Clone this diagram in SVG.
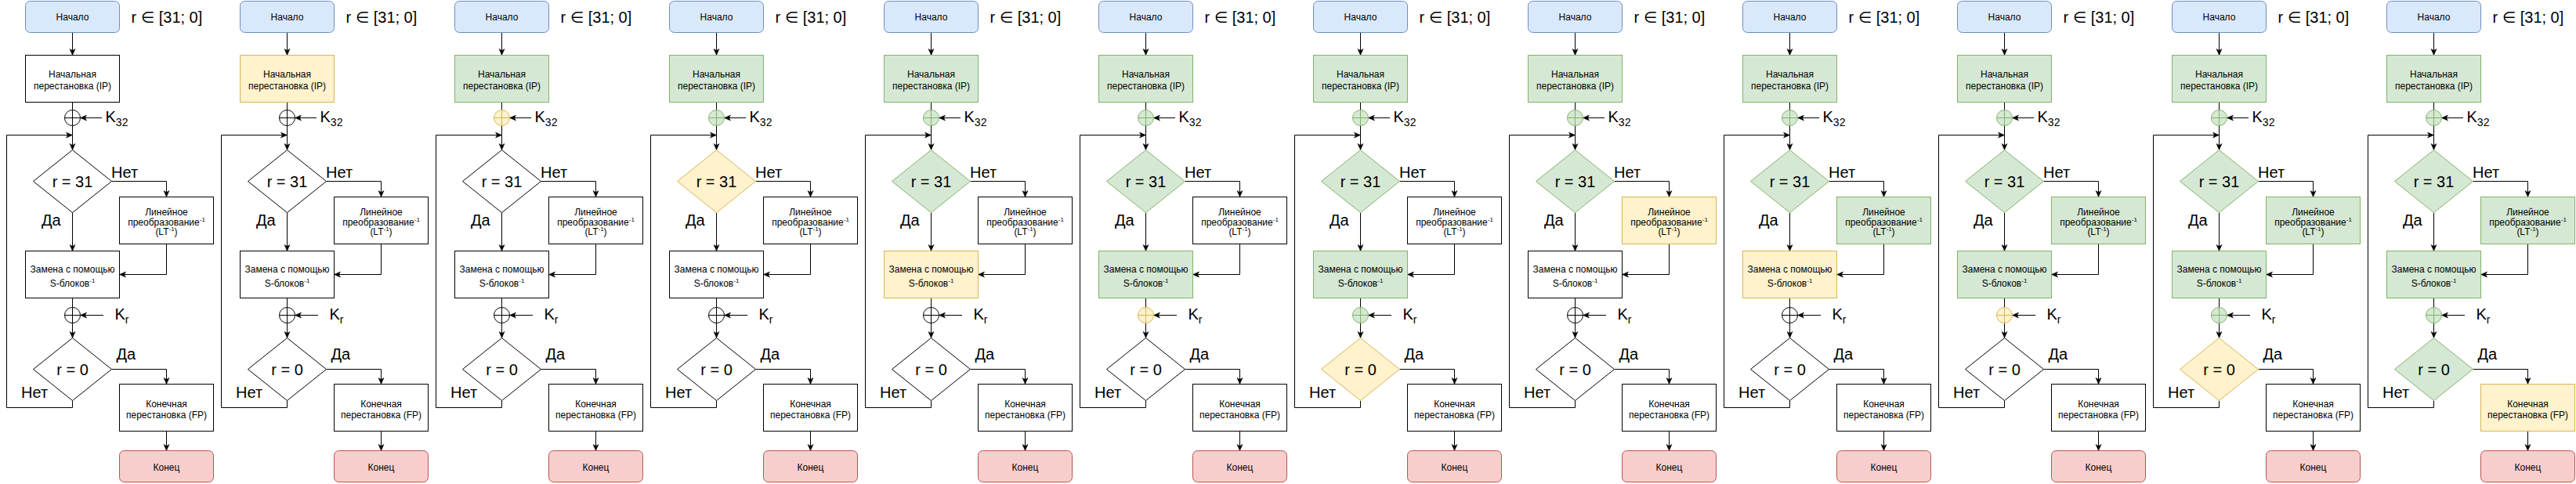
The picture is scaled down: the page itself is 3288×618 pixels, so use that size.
<svg xmlns="http://www.w3.org/2000/svg" width="3288" height="618" viewBox="0 0 3288 618">
<style>
.t{font-family:"Liberation Sans",Arial,sans-serif;font-size:12px;text-anchor:middle;fill:#000}
.L{font-size:20px}
.lb{font-family:"Liberation Sans",Arial,"DejaVu Sans",sans-serif;font-size:20px;fill:#000}
.sm{font-size:14px}
.sp{font-size:8px}
.c path{fill:none;stroke:#000;stroke-width:1}
.n{fill:#fff;stroke:#000;stroke-width:1}
.y{fill:#fff2cc;stroke:#d6b656;stroke-width:1}
.g{fill:#d5e8d4;stroke:#82b366;stroke-width:1}
.s{fill:#dae8fc;stroke:#6c8ebf;stroke-width:1}
.e{fill:#f8cecc;stroke:#b85450;stroke-width:1}
</style>
<defs>
<marker id="a" markerUnits="userSpaceOnUse" markerWidth="10" markerHeight="10" viewBox="-9 -5 10 10" refX="0" refY="0" orient="auto"><path d="M0,0L-8,-3.5L-6,0L-8,3.5Z" fill="#000" stroke="#000" stroke-width="0.5"/></marker>
</defs>
<rect width="3288" height="618" fill="#fff"/>

<g id="panel-1" transform="translate(0,0)">
<g id="p1-connectors" class="c">
<path d="M92.5,41.5V70.5" marker-end="url(#a)"/><path d="M92.5,130.5V140.5"/><path d="M130,150.5H102.5" marker-end="url(#a)"/><path d="M92.5,160.5V191.5" marker-end="url(#a)"/><path d="M92.5,511.5V520.5H8.5V172.5H92.5" marker-end="url(#a)"/><path d="M142.5,231.5H212.5V251.5" marker-end="url(#a)"/><path d="M92.5,271.5V320.5" marker-end="url(#a)"/><path d="M212.5,311.5V350.5H152.5" marker-end="url(#a)"/><path d="M92.5,380.5V392.5"/><path d="M132,402.5H102.5" marker-end="url(#a)"/><path d="M92.5,412.5V431.5" marker-end="url(#a)"/><path d="M142.5,471.5H212.5V490.5" marker-end="url(#a)"/><path d="M212.5,550.5V575.5" marker-end="url(#a)"/>
</g>
<g id="p1-start"><rect class="s" x="32.5" y="1.5" width="120" height="40" rx="6"/><text class="t" x="92.5" y="26">Начало</text></g>
<g id="p1-ip"><rect class="n" x="32.5" y="70.5" width="120" height="60"/><text class="t" x="92.5" y="99">Начальная</text><text class="t" x="92.5" y="114">перестановка (IP)</text></g>
<g id="p1-xor1"><circle class="n" cx="92.5" cy="150.5" r="10"/><path class="n" d="M92.5,140.5V160.5M82.5,150.5H102.5"/></g>
<g id="p1-d1"><path class="n" d="M92.5,191.5L142.5,231.5L92.5,271.5L42.5,231.5Z"/><text class="t L" x="92.5" y="238.5">r = 31</text></g>
<g id="p1-lt"><rect class="n" x="152.5" y="251.5" width="120" height="60"/><text class="t" x="212.5" y="274.5">Линейное</text><text class="t" x="212.5" y="288">преобразование<tspan class="sp" dy="-5">-1</tspan></text><text class="t" x="212.5" y="300">(LT<tspan class="sp" dy="-5">-1</tspan><tspan dy="5">)</tspan></text></g>
<g id="p1-sbox"><rect class="n" x="32.5" y="320.5" width="120" height="60"/><text class="t" x="92.5" y="347.5">Замена с помощью</text><text class="t" x="92.5" y="366">S-блоков<tspan class="sp" dy="-5">-1</tspan></text></g>
<g id="p1-xor2"><circle class="n" cx="92.5" cy="402.5" r="10"/><path class="n" d="M92.5,392.5V412.5M82.5,402.5H102.5"/></g>
<g id="p1-d2"><path class="n" d="M92.5,431.5L142.5,471.5L92.5,511.5L42.5,471.5Z"/><text class="t L" x="92.5" y="478.5">r = 0</text></g>
<g id="p1-fp"><rect class="n" x="152.5" y="490.5" width="120" height="60"/><text class="t" x="212.5" y="519.5">Конечная</text><text class="t" x="212.5" y="534">перестановка (FP)</text></g>
<g id="p1-end"><rect class="e" x="152.5" y="575.5" width="120" height="40" rx="6"/><text class="t" x="212.5" y="601">Конец</text></g>
<g id="p1-labels"><text class="lb" x="167.5" y="29">r ∈ [31; 0]</text><text class="lb" x="134.5" y="156">K<tspan class="sm" dy="5">32</tspan></text><text class="lb" x="146.5" y="407.5">K<tspan class="sm" dy="5">r</tspan></text><text class="lb" x="142" y="226.5">Нет</text><text class="lb" x="53" y="287.5">Да</text><text class="lb" x="148.5" y="458.5">Да</text><text class="lb" x="27" y="508">Нет</text></g>
</g>

<g id="panel-2" transform="translate(274,0)">
<g id="p2-connectors" class="c">
<path d="M92.5,41.5V70.5" marker-end="url(#a)"/><path d="M92.5,130.5V140.5"/><path d="M130,150.5H102.5" marker-end="url(#a)"/><path d="M92.5,160.5V191.5" marker-end="url(#a)"/><path d="M92.5,511.5V520.5H8.5V172.5H92.5" marker-end="url(#a)"/><path d="M142.5,231.5H212.5V251.5" marker-end="url(#a)"/><path d="M92.5,271.5V320.5" marker-end="url(#a)"/><path d="M212.5,311.5V350.5H152.5" marker-end="url(#a)"/><path d="M92.5,380.5V392.5"/><path d="M132,402.5H102.5" marker-end="url(#a)"/><path d="M92.5,412.5V431.5" marker-end="url(#a)"/><path d="M142.5,471.5H212.5V490.5" marker-end="url(#a)"/><path d="M212.5,550.5V575.5" marker-end="url(#a)"/>
</g>
<g id="p2-start"><rect class="s" x="32.5" y="1.5" width="120" height="40" rx="6"/><text class="t" x="92.5" y="26">Начало</text></g>
<g id="p2-ip"><rect class="y" x="32.5" y="70.5" width="120" height="60"/><text class="t" x="92.5" y="99">Начальная</text><text class="t" x="92.5" y="114">перестановка (IP)</text></g>
<g id="p2-xor1"><circle class="n" cx="92.5" cy="150.5" r="10"/><path class="n" d="M92.5,140.5V160.5M82.5,150.5H102.5"/></g>
<g id="p2-d1"><path class="n" d="M92.5,191.5L142.5,231.5L92.5,271.5L42.5,231.5Z"/><text class="t L" x="92.5" y="238.5">r = 31</text></g>
<g id="p2-lt"><rect class="n" x="152.5" y="251.5" width="120" height="60"/><text class="t" x="212.5" y="274.5">Линейное</text><text class="t" x="212.5" y="288">преобразование<tspan class="sp" dy="-5">-1</tspan></text><text class="t" x="212.5" y="300">(LT<tspan class="sp" dy="-5">-1</tspan><tspan dy="5">)</tspan></text></g>
<g id="p2-sbox"><rect class="n" x="32.5" y="320.5" width="120" height="60"/><text class="t" x="92.5" y="347.5">Замена с помощью</text><text class="t" x="92.5" y="366">S-блоков<tspan class="sp" dy="-5">-1</tspan></text></g>
<g id="p2-xor2"><circle class="n" cx="92.5" cy="402.5" r="10"/><path class="n" d="M92.5,392.5V412.5M82.5,402.5H102.5"/></g>
<g id="p2-d2"><path class="n" d="M92.5,431.5L142.5,471.5L92.5,511.5L42.5,471.5Z"/><text class="t L" x="92.5" y="478.5">r = 0</text></g>
<g id="p2-fp"><rect class="n" x="152.5" y="490.5" width="120" height="60"/><text class="t" x="212.5" y="519.5">Конечная</text><text class="t" x="212.5" y="534">перестановка (FP)</text></g>
<g id="p2-end"><rect class="e" x="152.5" y="575.5" width="120" height="40" rx="6"/><text class="t" x="212.5" y="601">Конец</text></g>
<g id="p2-labels"><text class="lb" x="167.5" y="29">r ∈ [31; 0]</text><text class="lb" x="134.5" y="156">K<tspan class="sm" dy="5">32</tspan></text><text class="lb" x="146.5" y="407.5">K<tspan class="sm" dy="5">r</tspan></text><text class="lb" x="142" y="226.5">Нет</text><text class="lb" x="53" y="287.5">Да</text><text class="lb" x="148.5" y="458.5">Да</text><text class="lb" x="27" y="508">Нет</text></g>
</g>

<g id="panel-3" transform="translate(548,0)">
<g id="p3-connectors" class="c">
<path d="M92.5,41.5V70.5" marker-end="url(#a)"/><path d="M92.5,130.5V140.5"/><path d="M130,150.5H102.5" marker-end="url(#a)"/><path d="M92.5,160.5V191.5" marker-end="url(#a)"/><path d="M92.5,511.5V520.5H8.5V172.5H92.5" marker-end="url(#a)"/><path d="M142.5,231.5H212.5V251.5" marker-end="url(#a)"/><path d="M92.5,271.5V320.5" marker-end="url(#a)"/><path d="M212.5,311.5V350.5H152.5" marker-end="url(#a)"/><path d="M92.5,380.5V392.5"/><path d="M132,402.5H102.5" marker-end="url(#a)"/><path d="M92.5,412.5V431.5" marker-end="url(#a)"/><path d="M142.5,471.5H212.5V490.5" marker-end="url(#a)"/><path d="M212.5,550.5V575.5" marker-end="url(#a)"/>
</g>
<g id="p3-start"><rect class="s" x="32.5" y="1.5" width="120" height="40" rx="6"/><text class="t" x="92.5" y="26">Начало</text></g>
<g id="p3-ip"><rect class="g" x="32.5" y="70.5" width="120" height="60"/><text class="t" x="92.5" y="99">Начальная</text><text class="t" x="92.5" y="114">перестановка (IP)</text></g>
<g id="p3-xor1"><circle class="y" cx="92.5" cy="150.5" r="10"/><path class="y" d="M92.5,140.5V160.5M82.5,150.5H102.5"/></g>
<g id="p3-d1"><path class="n" d="M92.5,191.5L142.5,231.5L92.5,271.5L42.5,231.5Z"/><text class="t L" x="92.5" y="238.5">r = 31</text></g>
<g id="p3-lt"><rect class="n" x="152.5" y="251.5" width="120" height="60"/><text class="t" x="212.5" y="274.5">Линейное</text><text class="t" x="212.5" y="288">преобразование<tspan class="sp" dy="-5">-1</tspan></text><text class="t" x="212.5" y="300">(LT<tspan class="sp" dy="-5">-1</tspan><tspan dy="5">)</tspan></text></g>
<g id="p3-sbox"><rect class="n" x="32.5" y="320.5" width="120" height="60"/><text class="t" x="92.5" y="347.5">Замена с помощью</text><text class="t" x="92.5" y="366">S-блоков<tspan class="sp" dy="-5">-1</tspan></text></g>
<g id="p3-xor2"><circle class="n" cx="92.5" cy="402.5" r="10"/><path class="n" d="M92.5,392.5V412.5M82.5,402.5H102.5"/></g>
<g id="p3-d2"><path class="n" d="M92.5,431.5L142.5,471.5L92.5,511.5L42.5,471.5Z"/><text class="t L" x="92.5" y="478.5">r = 0</text></g>
<g id="p3-fp"><rect class="n" x="152.5" y="490.5" width="120" height="60"/><text class="t" x="212.5" y="519.5">Конечная</text><text class="t" x="212.5" y="534">перестановка (FP)</text></g>
<g id="p3-end"><rect class="e" x="152.5" y="575.5" width="120" height="40" rx="6"/><text class="t" x="212.5" y="601">Конец</text></g>
<g id="p3-labels"><text class="lb" x="167.5" y="29">r ∈ [31; 0]</text><text class="lb" x="134.5" y="156">K<tspan class="sm" dy="5">32</tspan></text><text class="lb" x="146.5" y="407.5">K<tspan class="sm" dy="5">r</tspan></text><text class="lb" x="142" y="226.5">Нет</text><text class="lb" x="53" y="287.5">Да</text><text class="lb" x="148.5" y="458.5">Да</text><text class="lb" x="27" y="508">Нет</text></g>
</g>

<g id="panel-4" transform="translate(822,0)">
<g id="p4-connectors" class="c">
<path d="M92.5,41.5V70.5" marker-end="url(#a)"/><path d="M92.5,130.5V140.5"/><path d="M130,150.5H102.5" marker-end="url(#a)"/><path d="M92.5,160.5V191.5" marker-end="url(#a)"/><path d="M92.5,511.5V520.5H8.5V172.5H92.5" marker-end="url(#a)"/><path d="M142.5,231.5H212.5V251.5" marker-end="url(#a)"/><path d="M92.5,271.5V320.5" marker-end="url(#a)"/><path d="M212.5,311.5V350.5H152.5" marker-end="url(#a)"/><path d="M92.5,380.5V392.5"/><path d="M132,402.5H102.5" marker-end="url(#a)"/><path d="M92.5,412.5V431.5" marker-end="url(#a)"/><path d="M142.5,471.5H212.5V490.5" marker-end="url(#a)"/><path d="M212.5,550.5V575.5" marker-end="url(#a)"/>
</g>
<g id="p4-start"><rect class="s" x="32.5" y="1.5" width="120" height="40" rx="6"/><text class="t" x="92.5" y="26">Начало</text></g>
<g id="p4-ip"><rect class="g" x="32.5" y="70.5" width="120" height="60"/><text class="t" x="92.5" y="99">Начальная</text><text class="t" x="92.5" y="114">перестановка (IP)</text></g>
<g id="p4-xor1"><circle class="g" cx="92.5" cy="150.5" r="10"/><path class="g" d="M92.5,140.5V160.5M82.5,150.5H102.5"/></g>
<g id="p4-d1"><path class="y" d="M92.5,191.5L142.5,231.5L92.5,271.5L42.5,231.5Z"/><text class="t L" x="92.5" y="238.5">r = 31</text></g>
<g id="p4-lt"><rect class="n" x="152.5" y="251.5" width="120" height="60"/><text class="t" x="212.5" y="274.5">Линейное</text><text class="t" x="212.5" y="288">преобразование<tspan class="sp" dy="-5">-1</tspan></text><text class="t" x="212.5" y="300">(LT<tspan class="sp" dy="-5">-1</tspan><tspan dy="5">)</tspan></text></g>
<g id="p4-sbox"><rect class="n" x="32.5" y="320.5" width="120" height="60"/><text class="t" x="92.5" y="347.5">Замена с помощью</text><text class="t" x="92.5" y="366">S-блоков<tspan class="sp" dy="-5">-1</tspan></text></g>
<g id="p4-xor2"><circle class="n" cx="92.5" cy="402.5" r="10"/><path class="n" d="M92.5,392.5V412.5M82.5,402.5H102.5"/></g>
<g id="p4-d2"><path class="n" d="M92.5,431.5L142.5,471.5L92.5,511.5L42.5,471.5Z"/><text class="t L" x="92.5" y="478.5">r = 0</text></g>
<g id="p4-fp"><rect class="n" x="152.5" y="490.5" width="120" height="60"/><text class="t" x="212.5" y="519.5">Конечная</text><text class="t" x="212.5" y="534">перестановка (FP)</text></g>
<g id="p4-end"><rect class="e" x="152.5" y="575.5" width="120" height="40" rx="6"/><text class="t" x="212.5" y="601">Конец</text></g>
<g id="p4-labels"><text class="lb" x="167.5" y="29">r ∈ [31; 0]</text><text class="lb" x="134.5" y="156">K<tspan class="sm" dy="5">32</tspan></text><text class="lb" x="146.5" y="407.5">K<tspan class="sm" dy="5">r</tspan></text><text class="lb" x="142" y="226.5">Нет</text><text class="lb" x="53" y="287.5">Да</text><text class="lb" x="148.5" y="458.5">Да</text><text class="lb" x="27" y="508">Нет</text></g>
</g>

<g id="panel-5" transform="translate(1096,0)">
<g id="p5-connectors" class="c">
<path d="M92.5,41.5V70.5" marker-end="url(#a)"/><path d="M92.5,130.5V140.5"/><path d="M130,150.5H102.5" marker-end="url(#a)"/><path d="M92.5,160.5V191.5" marker-end="url(#a)"/><path d="M92.5,511.5V520.5H8.5V172.5H92.5" marker-end="url(#a)"/><path d="M142.5,231.5H212.5V251.5" marker-end="url(#a)"/><path d="M92.5,271.5V320.5" marker-end="url(#a)"/><path d="M212.5,311.5V350.5H152.5" marker-end="url(#a)"/><path d="M92.5,380.5V392.5"/><path d="M132,402.5H102.5" marker-end="url(#a)"/><path d="M92.5,412.5V431.5" marker-end="url(#a)"/><path d="M142.5,471.5H212.5V490.5" marker-end="url(#a)"/><path d="M212.5,550.5V575.5" marker-end="url(#a)"/>
</g>
<g id="p5-start"><rect class="s" x="32.5" y="1.5" width="120" height="40" rx="6"/><text class="t" x="92.5" y="26">Начало</text></g>
<g id="p5-ip"><rect class="g" x="32.5" y="70.5" width="120" height="60"/><text class="t" x="92.5" y="99">Начальная</text><text class="t" x="92.5" y="114">перестановка (IP)</text></g>
<g id="p5-xor1"><circle class="g" cx="92.5" cy="150.5" r="10"/><path class="g" d="M92.5,140.5V160.5M82.5,150.5H102.5"/></g>
<g id="p5-d1"><path class="g" d="M92.5,191.5L142.5,231.5L92.5,271.5L42.5,231.5Z"/><text class="t L" x="92.5" y="238.5">r = 31</text></g>
<g id="p5-lt"><rect class="n" x="152.5" y="251.5" width="120" height="60"/><text class="t" x="212.5" y="274.5">Линейное</text><text class="t" x="212.5" y="288">преобразование<tspan class="sp" dy="-5">-1</tspan></text><text class="t" x="212.5" y="300">(LT<tspan class="sp" dy="-5">-1</tspan><tspan dy="5">)</tspan></text></g>
<g id="p5-sbox"><rect class="y" x="32.5" y="320.5" width="120" height="60"/><text class="t" x="92.5" y="347.5">Замена с помощью</text><text class="t" x="92.5" y="366">S-блоков<tspan class="sp" dy="-5">-1</tspan></text></g>
<g id="p5-xor2"><circle class="n" cx="92.5" cy="402.5" r="10"/><path class="n" d="M92.5,392.5V412.5M82.5,402.5H102.5"/></g>
<g id="p5-d2"><path class="n" d="M92.5,431.5L142.5,471.5L92.5,511.5L42.5,471.5Z"/><text class="t L" x="92.5" y="478.5">r = 0</text></g>
<g id="p5-fp"><rect class="n" x="152.5" y="490.5" width="120" height="60"/><text class="t" x="212.5" y="519.5">Конечная</text><text class="t" x="212.5" y="534">перестановка (FP)</text></g>
<g id="p5-end"><rect class="e" x="152.5" y="575.5" width="120" height="40" rx="6"/><text class="t" x="212.5" y="601">Конец</text></g>
<g id="p5-labels"><text class="lb" x="167.5" y="29">r ∈ [31; 0]</text><text class="lb" x="134.5" y="156">K<tspan class="sm" dy="5">32</tspan></text><text class="lb" x="146.5" y="407.5">K<tspan class="sm" dy="5">r</tspan></text><text class="lb" x="142" y="226.5">Нет</text><text class="lb" x="53" y="287.5">Да</text><text class="lb" x="148.5" y="458.5">Да</text><text class="lb" x="27" y="508">Нет</text></g>
</g>

<g id="panel-6" transform="translate(1370,0)">
<g id="p6-connectors" class="c">
<path d="M92.5,41.5V70.5" marker-end="url(#a)"/><path d="M92.5,130.5V140.5"/><path d="M130,150.5H102.5" marker-end="url(#a)"/><path d="M92.5,160.5V191.5" marker-end="url(#a)"/><path d="M92.5,511.5V520.5H8.5V172.5H92.5" marker-end="url(#a)"/><path d="M142.5,231.5H212.5V251.5" marker-end="url(#a)"/><path d="M92.5,271.5V320.5" marker-end="url(#a)"/><path d="M212.5,311.5V350.5H152.5" marker-end="url(#a)"/><path d="M92.5,380.5V392.5"/><path d="M132,402.5H102.5" marker-end="url(#a)"/><path d="M92.5,412.5V431.5" marker-end="url(#a)"/><path d="M142.5,471.5H212.5V490.5" marker-end="url(#a)"/><path d="M212.5,550.5V575.5" marker-end="url(#a)"/>
</g>
<g id="p6-start"><rect class="s" x="32.5" y="1.5" width="120" height="40" rx="6"/><text class="t" x="92.5" y="26">Начало</text></g>
<g id="p6-ip"><rect class="g" x="32.5" y="70.5" width="120" height="60"/><text class="t" x="92.5" y="99">Начальная</text><text class="t" x="92.5" y="114">перестановка (IP)</text></g>
<g id="p6-xor1"><circle class="g" cx="92.5" cy="150.5" r="10"/><path class="g" d="M92.5,140.5V160.5M82.5,150.5H102.5"/></g>
<g id="p6-d1"><path class="g" d="M92.5,191.5L142.5,231.5L92.5,271.5L42.5,231.5Z"/><text class="t L" x="92.5" y="238.5">r = 31</text></g>
<g id="p6-lt"><rect class="n" x="152.5" y="251.5" width="120" height="60"/><text class="t" x="212.5" y="274.5">Линейное</text><text class="t" x="212.5" y="288">преобразование<tspan class="sp" dy="-5">-1</tspan></text><text class="t" x="212.5" y="300">(LT<tspan class="sp" dy="-5">-1</tspan><tspan dy="5">)</tspan></text></g>
<g id="p6-sbox"><rect class="g" x="32.5" y="320.5" width="120" height="60"/><text class="t" x="92.5" y="347.5">Замена с помощью</text><text class="t" x="92.5" y="366">S-блоков<tspan class="sp" dy="-5">-1</tspan></text></g>
<g id="p6-xor2"><circle class="y" cx="92.5" cy="402.5" r="10"/><path class="y" d="M92.5,392.5V412.5M82.5,402.5H102.5"/></g>
<g id="p6-d2"><path class="n" d="M92.5,431.5L142.5,471.5L92.5,511.5L42.5,471.5Z"/><text class="t L" x="92.5" y="478.5">r = 0</text></g>
<g id="p6-fp"><rect class="n" x="152.5" y="490.5" width="120" height="60"/><text class="t" x="212.5" y="519.5">Конечная</text><text class="t" x="212.5" y="534">перестановка (FP)</text></g>
<g id="p6-end"><rect class="e" x="152.5" y="575.5" width="120" height="40" rx="6"/><text class="t" x="212.5" y="601">Конец</text></g>
<g id="p6-labels"><text class="lb" x="167.5" y="29">r ∈ [31; 0]</text><text class="lb" x="134.5" y="156">K<tspan class="sm" dy="5">32</tspan></text><text class="lb" x="146.5" y="407.5">K<tspan class="sm" dy="5">r</tspan></text><text class="lb" x="142" y="226.5">Нет</text><text class="lb" x="53" y="287.5">Да</text><text class="lb" x="148.5" y="458.5">Да</text><text class="lb" x="27" y="508">Нет</text></g>
</g>

<g id="panel-7" transform="translate(1644,0)">
<g id="p7-connectors" class="c">
<path d="M92.5,41.5V70.5" marker-end="url(#a)"/><path d="M92.5,130.5V140.5"/><path d="M130,150.5H102.5" marker-end="url(#a)"/><path d="M92.5,160.5V191.5" marker-end="url(#a)"/><path d="M92.5,511.5V520.5H8.5V172.5H92.5" marker-end="url(#a)"/><path d="M142.5,231.5H212.5V251.5" marker-end="url(#a)"/><path d="M92.5,271.5V320.5" marker-end="url(#a)"/><path d="M212.5,311.5V350.5H152.5" marker-end="url(#a)"/><path d="M92.5,380.5V392.5"/><path d="M132,402.5H102.5" marker-end="url(#a)"/><path d="M92.5,412.5V431.5" marker-end="url(#a)"/><path d="M142.5,471.5H212.5V490.5" marker-end="url(#a)"/><path d="M212.5,550.5V575.5" marker-end="url(#a)"/>
</g>
<g id="p7-start"><rect class="s" x="32.5" y="1.5" width="120" height="40" rx="6"/><text class="t" x="92.5" y="26">Начало</text></g>
<g id="p7-ip"><rect class="g" x="32.5" y="70.5" width="120" height="60"/><text class="t" x="92.5" y="99">Начальная</text><text class="t" x="92.5" y="114">перестановка (IP)</text></g>
<g id="p7-xor1"><circle class="g" cx="92.5" cy="150.5" r="10"/><path class="g" d="M92.5,140.5V160.5M82.5,150.5H102.5"/></g>
<g id="p7-d1"><path class="g" d="M92.5,191.5L142.5,231.5L92.5,271.5L42.5,231.5Z"/><text class="t L" x="92.5" y="238.5">r = 31</text></g>
<g id="p7-lt"><rect class="n" x="152.5" y="251.5" width="120" height="60"/><text class="t" x="212.5" y="274.5">Линейное</text><text class="t" x="212.5" y="288">преобразование<tspan class="sp" dy="-5">-1</tspan></text><text class="t" x="212.5" y="300">(LT<tspan class="sp" dy="-5">-1</tspan><tspan dy="5">)</tspan></text></g>
<g id="p7-sbox"><rect class="g" x="32.5" y="320.5" width="120" height="60"/><text class="t" x="92.5" y="347.5">Замена с помощью</text><text class="t" x="92.5" y="366">S-блоков<tspan class="sp" dy="-5">-1</tspan></text></g>
<g id="p7-xor2"><circle class="g" cx="92.5" cy="402.5" r="10"/><path class="g" d="M92.5,392.5V412.5M82.5,402.5H102.5"/></g>
<g id="p7-d2"><path class="y" d="M92.5,431.5L142.5,471.5L92.5,511.5L42.5,471.5Z"/><text class="t L" x="92.5" y="478.5">r = 0</text></g>
<g id="p7-fp"><rect class="n" x="152.5" y="490.5" width="120" height="60"/><text class="t" x="212.5" y="519.5">Конечная</text><text class="t" x="212.5" y="534">перестановка (FP)</text></g>
<g id="p7-end"><rect class="e" x="152.5" y="575.5" width="120" height="40" rx="6"/><text class="t" x="212.5" y="601">Конец</text></g>
<g id="p7-labels"><text class="lb" x="167.5" y="29">r ∈ [31; 0]</text><text class="lb" x="134.5" y="156">K<tspan class="sm" dy="5">32</tspan></text><text class="lb" x="146.5" y="407.5">K<tspan class="sm" dy="5">r</tspan></text><text class="lb" x="142" y="226.5">Нет</text><text class="lb" x="53" y="287.5">Да</text><text class="lb" x="148.5" y="458.5">Да</text><text class="lb" x="27" y="508">Нет</text></g>
</g>

<g id="panel-8" transform="translate(1918,0)">
<g id="p8-connectors" class="c">
<path d="M92.5,41.5V70.5" marker-end="url(#a)"/><path d="M92.5,130.5V140.5"/><path d="M130,150.5H102.5" marker-end="url(#a)"/><path d="M92.5,160.5V191.5" marker-end="url(#a)"/><path d="M92.5,511.5V520.5H8.5V172.5H92.5" marker-end="url(#a)"/><path d="M142.5,231.5H212.5V251.5" marker-end="url(#a)"/><path d="M92.5,271.5V320.5" marker-end="url(#a)"/><path d="M212.5,311.5V350.5H152.5" marker-end="url(#a)"/><path d="M92.5,380.5V392.5"/><path d="M132,402.5H102.5" marker-end="url(#a)"/><path d="M92.5,412.5V431.5" marker-end="url(#a)"/><path d="M142.5,471.5H212.5V490.5" marker-end="url(#a)"/><path d="M212.5,550.5V575.5" marker-end="url(#a)"/>
</g>
<g id="p8-start"><rect class="s" x="32.5" y="1.5" width="120" height="40" rx="6"/><text class="t" x="92.5" y="26">Начало</text></g>
<g id="p8-ip"><rect class="g" x="32.5" y="70.5" width="120" height="60"/><text class="t" x="92.5" y="99">Начальная</text><text class="t" x="92.5" y="114">перестановка (IP)</text></g>
<g id="p8-xor1"><circle class="g" cx="92.5" cy="150.5" r="10"/><path class="g" d="M92.5,140.5V160.5M82.5,150.5H102.5"/></g>
<g id="p8-d1"><path class="g" d="M92.5,191.5L142.5,231.5L92.5,271.5L42.5,231.5Z"/><text class="t L" x="92.5" y="238.5">r = 31</text></g>
<g id="p8-lt"><rect class="y" x="152.5" y="251.5" width="120" height="60"/><text class="t" x="212.5" y="274.5">Линейное</text><text class="t" x="212.5" y="288">преобразование<tspan class="sp" dy="-5">-1</tspan></text><text class="t" x="212.5" y="300">(LT<tspan class="sp" dy="-5">-1</tspan><tspan dy="5">)</tspan></text></g>
<g id="p8-sbox"><rect class="n" x="32.5" y="320.5" width="120" height="60"/><text class="t" x="92.5" y="347.5">Замена с помощью</text><text class="t" x="92.5" y="366">S-блоков<tspan class="sp" dy="-5">-1</tspan></text></g>
<g id="p8-xor2"><circle class="n" cx="92.5" cy="402.5" r="10"/><path class="n" d="M92.5,392.5V412.5M82.5,402.5H102.5"/></g>
<g id="p8-d2"><path class="n" d="M92.5,431.5L142.5,471.5L92.5,511.5L42.5,471.5Z"/><text class="t L" x="92.5" y="478.5">r = 0</text></g>
<g id="p8-fp"><rect class="n" x="152.5" y="490.5" width="120" height="60"/><text class="t" x="212.5" y="519.5">Конечная</text><text class="t" x="212.5" y="534">перестановка (FP)</text></g>
<g id="p8-end"><rect class="e" x="152.5" y="575.5" width="120" height="40" rx="6"/><text class="t" x="212.5" y="601">Конец</text></g>
<g id="p8-labels"><text class="lb" x="167.5" y="29">r ∈ [31; 0]</text><text class="lb" x="134.5" y="156">K<tspan class="sm" dy="5">32</tspan></text><text class="lb" x="146.5" y="407.5">K<tspan class="sm" dy="5">r</tspan></text><text class="lb" x="142" y="226.5">Нет</text><text class="lb" x="53" y="287.5">Да</text><text class="lb" x="148.5" y="458.5">Да</text><text class="lb" x="27" y="508">Нет</text></g>
</g>

<g id="panel-9" transform="translate(2192,0)">
<g id="p9-connectors" class="c">
<path d="M92.5,41.5V70.5" marker-end="url(#a)"/><path d="M92.5,130.5V140.5"/><path d="M130,150.5H102.5" marker-end="url(#a)"/><path d="M92.5,160.5V191.5" marker-end="url(#a)"/><path d="M92.5,511.5V520.5H8.5V172.5H92.5" marker-end="url(#a)"/><path d="M142.5,231.5H212.5V251.5" marker-end="url(#a)"/><path d="M92.5,271.5V320.5" marker-end="url(#a)"/><path d="M212.5,311.5V350.5H152.5" marker-end="url(#a)"/><path d="M92.5,380.5V392.5"/><path d="M132,402.5H102.5" marker-end="url(#a)"/><path d="M92.5,412.5V431.5" marker-end="url(#a)"/><path d="M142.5,471.5H212.5V490.5" marker-end="url(#a)"/><path d="M212.5,550.5V575.5" marker-end="url(#a)"/>
</g>
<g id="p9-start"><rect class="s" x="32.5" y="1.5" width="120" height="40" rx="6"/><text class="t" x="92.5" y="26">Начало</text></g>
<g id="p9-ip"><rect class="g" x="32.5" y="70.5" width="120" height="60"/><text class="t" x="92.5" y="99">Начальная</text><text class="t" x="92.5" y="114">перестановка (IP)</text></g>
<g id="p9-xor1"><circle class="g" cx="92.5" cy="150.5" r="10"/><path class="g" d="M92.5,140.5V160.5M82.5,150.5H102.5"/></g>
<g id="p9-d1"><path class="g" d="M92.5,191.5L142.5,231.5L92.5,271.5L42.5,231.5Z"/><text class="t L" x="92.5" y="238.5">r = 31</text></g>
<g id="p9-lt"><rect class="g" x="152.5" y="251.5" width="120" height="60"/><text class="t" x="212.5" y="274.5">Линейное</text><text class="t" x="212.5" y="288">преобразование<tspan class="sp" dy="-5">-1</tspan></text><text class="t" x="212.5" y="300">(LT<tspan class="sp" dy="-5">-1</tspan><tspan dy="5">)</tspan></text></g>
<g id="p9-sbox"><rect class="y" x="32.5" y="320.5" width="120" height="60"/><text class="t" x="92.5" y="347.5">Замена с помощью</text><text class="t" x="92.5" y="366">S-блоков<tspan class="sp" dy="-5">-1</tspan></text></g>
<g id="p9-xor2"><circle class="n" cx="92.5" cy="402.5" r="10"/><path class="n" d="M92.5,392.5V412.5M82.5,402.5H102.5"/></g>
<g id="p9-d2"><path class="n" d="M92.5,431.5L142.5,471.5L92.5,511.5L42.5,471.5Z"/><text class="t L" x="92.5" y="478.5">r = 0</text></g>
<g id="p9-fp"><rect class="n" x="152.5" y="490.5" width="120" height="60"/><text class="t" x="212.5" y="519.5">Конечная</text><text class="t" x="212.5" y="534">перестановка (FP)</text></g>
<g id="p9-end"><rect class="e" x="152.5" y="575.5" width="120" height="40" rx="6"/><text class="t" x="212.5" y="601">Конец</text></g>
<g id="p9-labels"><text class="lb" x="167.5" y="29">r ∈ [31; 0]</text><text class="lb" x="134.5" y="156">K<tspan class="sm" dy="5">32</tspan></text><text class="lb" x="146.5" y="407.5">K<tspan class="sm" dy="5">r</tspan></text><text class="lb" x="142" y="226.5">Нет</text><text class="lb" x="53" y="287.5">Да</text><text class="lb" x="148.5" y="458.5">Да</text><text class="lb" x="27" y="508">Нет</text></g>
</g>

<g id="panel-10" transform="translate(2466,0)">
<g id="p10-connectors" class="c">
<path d="M92.5,41.5V70.5" marker-end="url(#a)"/><path d="M92.5,130.5V140.5"/><path d="M130,150.5H102.5" marker-end="url(#a)"/><path d="M92.5,160.5V191.5" marker-end="url(#a)"/><path d="M92.5,511.5V520.5H8.5V172.5H92.5" marker-end="url(#a)"/><path d="M142.5,231.5H212.5V251.5" marker-end="url(#a)"/><path d="M92.5,271.5V320.5" marker-end="url(#a)"/><path d="M212.5,311.5V350.5H152.5" marker-end="url(#a)"/><path d="M92.5,380.5V392.5"/><path d="M132,402.5H102.5" marker-end="url(#a)"/><path d="M92.5,412.5V431.5" marker-end="url(#a)"/><path d="M142.5,471.5H212.5V490.5" marker-end="url(#a)"/><path d="M212.5,550.5V575.5" marker-end="url(#a)"/>
</g>
<g id="p10-start"><rect class="s" x="32.5" y="1.5" width="120" height="40" rx="6"/><text class="t" x="92.5" y="26">Начало</text></g>
<g id="p10-ip"><rect class="g" x="32.5" y="70.5" width="120" height="60"/><text class="t" x="92.5" y="99">Начальная</text><text class="t" x="92.5" y="114">перестановка (IP)</text></g>
<g id="p10-xor1"><circle class="g" cx="92.5" cy="150.5" r="10"/><path class="g" d="M92.5,140.5V160.5M82.5,150.5H102.5"/></g>
<g id="p10-d1"><path class="g" d="M92.5,191.5L142.5,231.5L92.5,271.5L42.5,231.5Z"/><text class="t L" x="92.5" y="238.5">r = 31</text></g>
<g id="p10-lt"><rect class="g" x="152.5" y="251.5" width="120" height="60"/><text class="t" x="212.5" y="274.5">Линейное</text><text class="t" x="212.5" y="288">преобразование<tspan class="sp" dy="-5">-1</tspan></text><text class="t" x="212.5" y="300">(LT<tspan class="sp" dy="-5">-1</tspan><tspan dy="5">)</tspan></text></g>
<g id="p10-sbox"><rect class="g" x="32.5" y="320.5" width="120" height="60"/><text class="t" x="92.5" y="347.5">Замена с помощью</text><text class="t" x="92.5" y="366">S-блоков<tspan class="sp" dy="-5">-1</tspan></text></g>
<g id="p10-xor2"><circle class="y" cx="92.5" cy="402.5" r="10"/><path class="y" d="M92.5,392.5V412.5M82.5,402.5H102.5"/></g>
<g id="p10-d2"><path class="n" d="M92.5,431.5L142.5,471.5L92.5,511.5L42.5,471.5Z"/><text class="t L" x="92.5" y="478.5">r = 0</text></g>
<g id="p10-fp"><rect class="n" x="152.5" y="490.5" width="120" height="60"/><text class="t" x="212.5" y="519.5">Конечная</text><text class="t" x="212.5" y="534">перестановка (FP)</text></g>
<g id="p10-end"><rect class="e" x="152.5" y="575.5" width="120" height="40" rx="6"/><text class="t" x="212.5" y="601">Конец</text></g>
<g id="p10-labels"><text class="lb" x="167.5" y="29">r ∈ [31; 0]</text><text class="lb" x="134.5" y="156">K<tspan class="sm" dy="5">32</tspan></text><text class="lb" x="146.5" y="407.5">K<tspan class="sm" dy="5">r</tspan></text><text class="lb" x="142" y="226.5">Нет</text><text class="lb" x="53" y="287.5">Да</text><text class="lb" x="148.5" y="458.5">Да</text><text class="lb" x="27" y="508">Нет</text></g>
</g>

<g id="panel-11" transform="translate(2740,0)">
<g id="p11-connectors" class="c">
<path d="M92.5,41.5V70.5" marker-end="url(#a)"/><path d="M92.5,130.5V140.5"/><path d="M130,150.5H102.5" marker-end="url(#a)"/><path d="M92.5,160.5V191.5" marker-end="url(#a)"/><path d="M92.5,511.5V520.5H8.5V172.5H92.5" marker-end="url(#a)"/><path d="M142.5,231.5H212.5V251.5" marker-end="url(#a)"/><path d="M92.5,271.5V320.5" marker-end="url(#a)"/><path d="M212.5,311.5V350.5H152.5" marker-end="url(#a)"/><path d="M92.5,380.5V392.5"/><path d="M132,402.5H102.5" marker-end="url(#a)"/><path d="M92.5,412.5V431.5" marker-end="url(#a)"/><path d="M142.5,471.5H212.5V490.5" marker-end="url(#a)"/><path d="M212.5,550.5V575.5" marker-end="url(#a)"/>
</g>
<g id="p11-start"><rect class="s" x="32.5" y="1.5" width="120" height="40" rx="6"/><text class="t" x="92.5" y="26">Начало</text></g>
<g id="p11-ip"><rect class="g" x="32.5" y="70.5" width="120" height="60"/><text class="t" x="92.5" y="99">Начальная</text><text class="t" x="92.5" y="114">перестановка (IP)</text></g>
<g id="p11-xor1"><circle class="g" cx="92.5" cy="150.5" r="10"/><path class="g" d="M92.5,140.5V160.5M82.5,150.5H102.5"/></g>
<g id="p11-d1"><path class="g" d="M92.5,191.5L142.5,231.5L92.5,271.5L42.5,231.5Z"/><text class="t L" x="92.5" y="238.5">r = 31</text></g>
<g id="p11-lt"><rect class="g" x="152.5" y="251.5" width="120" height="60"/><text class="t" x="212.5" y="274.5">Линейное</text><text class="t" x="212.5" y="288">преобразование<tspan class="sp" dy="-5">-1</tspan></text><text class="t" x="212.5" y="300">(LT<tspan class="sp" dy="-5">-1</tspan><tspan dy="5">)</tspan></text></g>
<g id="p11-sbox"><rect class="g" x="32.5" y="320.5" width="120" height="60"/><text class="t" x="92.5" y="347.5">Замена с помощью</text><text class="t" x="92.5" y="366">S-блоков<tspan class="sp" dy="-5">-1</tspan></text></g>
<g id="p11-xor2"><circle class="g" cx="92.5" cy="402.5" r="10"/><path class="g" d="M92.5,392.5V412.5M82.5,402.5H102.5"/></g>
<g id="p11-d2"><path class="y" d="M92.5,431.5L142.5,471.5L92.5,511.5L42.5,471.5Z"/><text class="t L" x="92.5" y="478.5">r = 0</text></g>
<g id="p11-fp"><rect class="n" x="152.5" y="490.5" width="120" height="60"/><text class="t" x="212.5" y="519.5">Конечная</text><text class="t" x="212.5" y="534">перестановка (FP)</text></g>
<g id="p11-end"><rect class="e" x="152.5" y="575.5" width="120" height="40" rx="6"/><text class="t" x="212.5" y="601">Конец</text></g>
<g id="p11-labels"><text class="lb" x="167.5" y="29">r ∈ [31; 0]</text><text class="lb" x="134.5" y="156">K<tspan class="sm" dy="5">32</tspan></text><text class="lb" x="146.5" y="407.5">K<tspan class="sm" dy="5">r</tspan></text><text class="lb" x="142" y="226.5">Нет</text><text class="lb" x="53" y="287.5">Да</text><text class="lb" x="148.5" y="458.5">Да</text><text class="lb" x="27" y="508">Нет</text></g>
</g>

<g id="panel-12" transform="translate(3014,0)">
<g id="p12-connectors" class="c">
<path d="M92.5,41.5V70.5" marker-end="url(#a)"/><path d="M92.5,130.5V140.5"/><path d="M130,150.5H102.5" marker-end="url(#a)"/><path d="M92.5,160.5V191.5" marker-end="url(#a)"/><path d="M92.5,511.5V520.5H8.5V172.5H92.5" marker-end="url(#a)"/><path d="M142.5,231.5H212.5V251.5" marker-end="url(#a)"/><path d="M92.5,271.5V320.5" marker-end="url(#a)"/><path d="M212.5,311.5V350.5H152.5" marker-end="url(#a)"/><path d="M92.5,380.5V392.5"/><path d="M132,402.5H102.5" marker-end="url(#a)"/><path d="M92.5,412.5V431.5" marker-end="url(#a)"/><path d="M142.5,471.5H212.5V490.5" marker-end="url(#a)"/><path d="M212.5,550.5V575.5" marker-end="url(#a)"/>
</g>
<g id="p12-start"><rect class="s" x="32.5" y="1.5" width="120" height="40" rx="6"/><text class="t" x="92.5" y="26">Начало</text></g>
<g id="p12-ip"><rect class="g" x="32.5" y="70.5" width="120" height="60"/><text class="t" x="92.5" y="99">Начальная</text><text class="t" x="92.5" y="114">перестановка (IP)</text></g>
<g id="p12-xor1"><circle class="g" cx="92.5" cy="150.5" r="10"/><path class="g" d="M92.5,140.5V160.5M82.5,150.5H102.5"/></g>
<g id="p12-d1"><path class="g" d="M92.5,191.5L142.5,231.5L92.5,271.5L42.5,231.5Z"/><text class="t L" x="92.5" y="238.5">r = 31</text></g>
<g id="p12-lt"><rect class="g" x="152.5" y="251.5" width="120" height="60"/><text class="t" x="212.5" y="274.5">Линейное</text><text class="t" x="212.5" y="288">преобразование<tspan class="sp" dy="-5">-1</tspan></text><text class="t" x="212.5" y="300">(LT<tspan class="sp" dy="-5">-1</tspan><tspan dy="5">)</tspan></text></g>
<g id="p12-sbox"><rect class="g" x="32.5" y="320.5" width="120" height="60"/><text class="t" x="92.5" y="347.5">Замена с помощью</text><text class="t" x="92.5" y="366">S-блоков<tspan class="sp" dy="-5">-1</tspan></text></g>
<g id="p12-xor2"><circle class="g" cx="92.5" cy="402.5" r="10"/><path class="g" d="M92.5,392.5V412.5M82.5,402.5H102.5"/></g>
<g id="p12-d2"><path class="g" d="M92.5,431.5L142.5,471.5L92.5,511.5L42.5,471.5Z"/><text class="t L" x="92.5" y="478.5">r = 0</text></g>
<g id="p12-fp"><rect class="y" x="152.5" y="490.5" width="120" height="60"/><text class="t" x="212.5" y="519.5">Конечная</text><text class="t" x="212.5" y="534">перестановка (FP)</text></g>
<g id="p12-end"><rect class="e" x="152.5" y="575.5" width="120" height="40" rx="6"/><text class="t" x="212.5" y="601">Конец</text></g>
<g id="p12-labels"><text class="lb" x="167.5" y="29">r ∈ [31; 0]</text><text class="lb" x="134.5" y="156">K<tspan class="sm" dy="5">32</tspan></text><text class="lb" x="146.5" y="407.5">K<tspan class="sm" dy="5">r</tspan></text><text class="lb" x="142" y="226.5">Нет</text><text class="lb" x="53" y="287.5">Да</text><text class="lb" x="148.5" y="458.5">Да</text><text class="lb" x="27" y="508">Нет</text></g>
</g>
</svg>
